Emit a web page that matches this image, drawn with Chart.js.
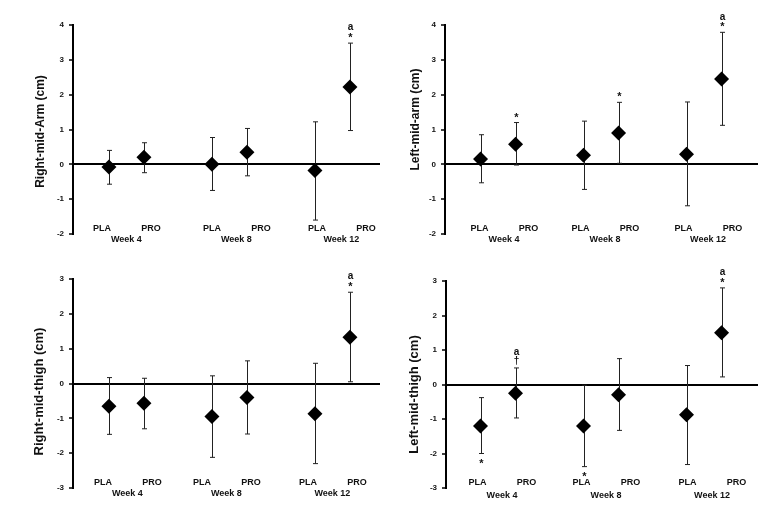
<!DOCTYPE html>
<html>
<head>
<meta charset="utf-8">
<script src="https://cdn.jsdelivr.net/npm/chart.js@4"></script>
<style>
  body { margin: 0; background: #fff; }
  #wrap { position: relative; width: 758px; height: 505px; }
  canvas { position: absolute; }
</style>
</head>
<body>
<div id="wrap">
  <canvas id="c1" width="380" height="250" style="left:0;top:0"></canvas>
  <canvas id="c2" width="379" height="250" style="left:379px;top:0"></canvas>
  <canvas id="c3" width="380" height="255" style="left:0;top:250px"></canvas>
  <canvas id="c4" width="379" height="255" style="left:379px;top:250px"></canvas>
</div>
<script>
// Categories
const weeks = ['Week 4', 'Week 8', 'Week 12'];
const groups = ['PLA', 'PRO'];
// Values in order: W4 PLA, W4 PRO, W8 PLA, W8 PRO, W12 PLA, W12 PRO

// Right-mid-arm
const rightArmMean  = [-0.08, 0.20, 0.00, 0.35, -0.18, 2.22];
const rightArmUpper = [0.40, 0.62, 0.77, 1.03, 1.22, 3.48];
const rightArmLower = [-0.57, -0.24, -0.75, -0.33, -1.60, 0.97];
const rightArmAbove = ['', '', '', '', '', '*a'];
const rightArmBelow = ['', '', '', '', '', ''];

// Left-mid-arm
const leftArmMean  = [0.15, 0.58, 0.26, 0.90, 0.29, 2.45];
const leftArmUpper = [0.85, 1.20, 1.24, 1.78, 1.79, 3.79];
const leftArmLower = [-0.53, -0.02, -0.72, 0.03, -1.19, 1.12];
const leftArmAbove = ['', '*', '', '*', '', '*a'];
const leftArmBelow = ['', '', '', '', '', ''];

// Right-mid-thigh
const rightThighMean  = [-0.65, -0.57, -0.95, -0.40, -0.87, 1.33];
const rightThighUpper = [0.17, 0.15, 0.22, 0.65, 0.58, 2.62];
const rightThighLower = [-1.46, -1.30, -2.12, -1.45, -2.30, 0.05];
const rightThighAbove = ['', '', '', '', '', '*a'];
const rightThighBelow = ['', '', '', '', '', ''];

// Left-mid-thigh
const leftThighMean  = [-1.20, -0.25, -1.20, -0.30, -0.88, 1.50];
const leftThighUpper = [-0.38, 0.48, -0.02, 0.75, 0.55, 2.80];
const leftThighLower = [-2.00, -0.97, -2.38, -1.33, -2.32, 0.22];
const leftThighAbove = ['', '†a', '', '', '', '*a'];
const leftThighBelow = ['*', '', '*', '', '', ''];

const armTicks = [-2, -1, 0, 1, 2, 3, 4];
const thighTicks = [-3, -2, -1, 0, 1, 2, 3];

const FONT = '"Liberation Sans", Arial, sans-serif';
const POINT_OFFSET = 0.17;
const LABEL_OFFSET = 0.238;

function xFor(i) {
  const w = Math.floor(i / 2);
  return w + 1 + (i % 2 === 0 ? -POINT_OFFSET : POINT_OFFSET);
}

const panelPlugin = {
  id: 'panel',
  beforeDatasetsDraw(chart) {
    const o = chart.options.plugins.panel;
    const { ctx } = chart;
    const xs = chart.scales.x, ys = chart.scales.y;
    ctx.save();
    ctx.strokeStyle = '#222';
    ctx.lineWidth = 1;
    o.mean.forEach((m, i) => {
      const px = Math.round(xs.getPixelForValue(xFor(i))) + 0.5;
      const top = ys.getPixelForValue(o.upper[i]);
      const bot = ys.getPixelForValue(o.lower[i]);
      ctx.beginPath();
      ctx.moveTo(px, top); ctx.lineTo(px, bot);
      ctx.moveTo(px - 2.5, top); ctx.lineTo(px + 2.5, top);
      ctx.moveTo(px - 2.5, bot); ctx.lineTo(px + 2.5, bot);
      ctx.stroke();
    });
    ctx.restore();
  },
  afterDatasetsDraw(chart) {
    const o = chart.options.plugins.panel;
    const { ctx, chartArea } = chart;
    const xs = chart.scales.x, ys = chart.scales.y;
    ctx.save();
    ctx.fillStyle = '#111';
    ctx.textAlign = 'center';
    ctx.textBaseline = 'middle';

    // significance marks
    o.mean.forEach((m, i) => {
      const px = Math.round(xs.getPixelForValue(xFor(i))) + 0.5;
      const up = o.above[i];
      for (let k = 0; k < up.length; k++) {
        const y = ys.getPixelForValue(o.upper[i]) - 7 - k * 8.5;
        ctx.font = (up[k] === '*' ? 'bold 11px ' : 'bold 10px ') + FONT;
        ctx.fillText(up[k], px, y + (up[k] === '*' ? 2 : 0));
      }
      const dn = o.below[i];
      for (let k = 0; k < dn.length; k++) {
        const y = ys.getPixelForValue(o.lower[i]) + 8 + k * 8.5;
        ctx.font = 'bold 11px ' + FONT;
        ctx.fillText(dn[k], px, y + 2);
      }
    });

    // group and week labels (text boxes sit a little off the point columns)
    ctx.font = 'bold 9px ' + FONT;
    weeks.forEach((w, wi) => {
      const shift = o.labelShift[wi];
      groups.forEach((g, gi) => {
        const px = xs.getPixelForValue(wi + 1 + (gi === 0 ? -LABEL_OFFSET : LABEL_OFFSET)) + shift;
        ctx.fillText(g, px, chartArea.bottom - 5);
      });
      ctx.fillText(w, xs.getPixelForValue(wi + 1) + shift, chartArea.bottom + o.weekGap);
    });

    // axis title
    ctx.font = 'bold ' + o.titleSize + 'px ' + FONT;
    ctx.translate(o.titleX, (chartArea.top + chartArea.bottom) / 2 + o.titleShift);
    ctx.rotate(-Math.PI / 2);
    ctx.fillText(o.title, 0, 0);
    ctx.restore();
  }
};

function makePanel(id, cfg) {
  const points = cfg.mean.map((v, i) => ({ x: xFor(i), y: v }));
  new Chart(document.getElementById(id), {
    type: 'scatter',
    data: {
      datasets: [{
        data: points,
        pointStyle: 'rectRot',
        pointRadius: 7.5,
        pointBackgroundColor: '#000',
        pointBorderColor: '#000',
        pointBorderWidth: 0,
        showLine: false
      }]
    },
    options: {
      responsive: false,
      animation: false,
      devicePixelRatio: 1,
      layout: {
        autoPadding: false,
        padding: { left: 0, right: 0, top: cfg.padTop, bottom: cfg.padBottom }
      },
      scales: {
        x: { type: 'linear', display: false, min: cfg.xMin, max: cfg.xMax },
        y: {
          min: cfg.ticks[0],
          max: cfg.ticks[cfg.ticks.length - 1],
          afterFit(scale) { scale.width = cfg.axisW; },
          afterBuildTicks(scale) { scale.ticks = cfg.ticks.map(v => ({ value: v })); },
          border: { display: true, color: '#000', width: 2 },
          grid: {
            color: c => (c.tick && c.tick.value === 0 ? '#000' : 'rgba(0,0,0,0)'),
            lineWidth: 2,
            tickColor: '#000',
            tickWidth: 1.5,
            tickLength: 4
          },
          ticks: {
            color: '#111',
            padding: 5,
            font: { family: FONT, size: 8, weight: 'bold' }
          }
        }
      },
      plugins: {
        legend: { display: false },
        tooltip: { enabled: false },
        panel: cfg
      }
    },
    plugins: [panelPlugin]
  });
}

makePanel('c1', {
  title: 'Right-mid-Arm (cm)', titleSize: 12, titleX: 41, titleShift: 2,
  mean: rightArmMean, upper: rightArmUpper, lower: rightArmLower,
  above: rightArmAbove, below: rightArmBelow, ticks: armTicks,
  padTop: 25, padBottom: 16, axisW: 73, xMin: 0.481, xMax: 3.462, weekGap: 6,
  labelShift: [0, 7, 9]
});
makePanel('c2', {
  title: 'Left-mid-arm (cm)', titleSize: 12, titleX: 37, titleShift: -10,
  mean: leftArmMean, upper: leftArmUpper, lower: leftArmLower,
  above: leftArmAbove, below: leftArmBelow, ticks: armTicks,
  padTop: 25, padBottom: 16, axisW: 66, xMin: 0.485, xMax: 3.524, weekGap: 6,
  labelShift: [6, 4, 4]
});
makePanel('c3', {
  title: 'Right-mid-thigh (cm)', titleSize: 13, titleX: 39, titleShift: 8,
  mean: rightThighMean, upper: rightThighUpper, lower: rightThighLower,
  above: rightThighAbove, below: rightThighBelow, ticks: thighTicks,
  padTop: 29, padBottom: 17, axisW: 73, xMin: 0.481, xMax: 3.462, weekGap: 6,
  labelShift: [1, -3, 0]
});
makePanel('c4', {
  title: 'Left-mid-thigh (cm)', titleSize: 13, titleX: 35.5, titleShift: 10,
  mean: leftThighMean, upper: leftThighUpper, lower: leftThighLower,
  above: leftThighAbove, below: leftThighBelow, ticks: thighTicks,
  padTop: 31, padBottom: 17, axisW: 67, xMin: 0.495, xMax: 3.524, weekGap: 8,
  labelShift: [4, 5, 8]
});
</script>
</body>
</html>
